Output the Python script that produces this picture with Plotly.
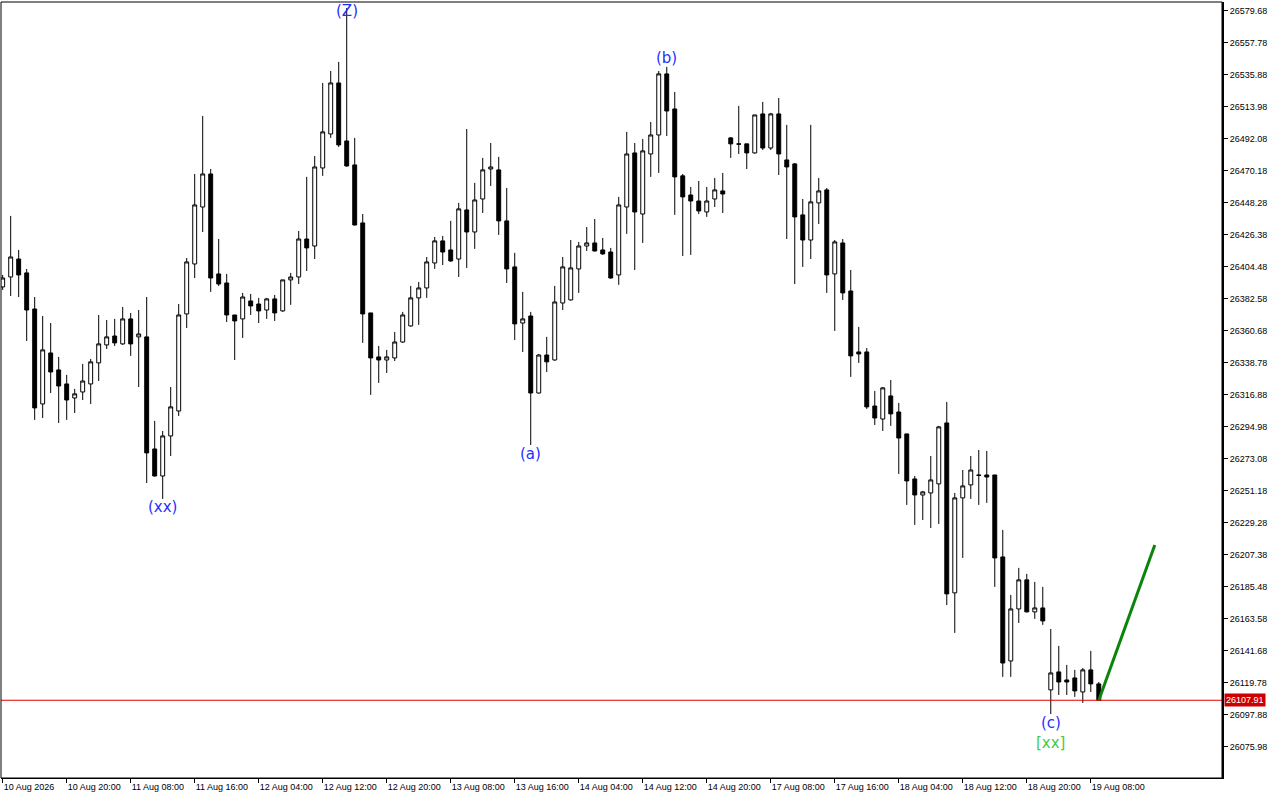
import plotly.graph_objects as go

# ---- data (prices) ----
opens = [26390.8, 26397.6, 26409.9, 26400.4, 26375.7, 26310.7, 26345.6, 26334.0, 26324.4, 26314.8,
         26318.9, 26324.4, 26338.8, 26351.1, 26357.2, 26351.8, 26368.9, 26356.6, 26356.6, 26279.9,
         26261.4, 26288.8, 26305.9, 26372.3, 26406.5, 26445.5, 26468.1, 26399.7, 26393.5, 26371.6,
         26368.9, 26381.2, 26379.1, 26375.0, 26382.6, 26374.4, 26395.6, 26397.6, 26423.6, 26418.8,
         26472.2, 26495.5, 26530.4, 26490.7, 26474.3, 26434.6, 26373.0, 26342.9, 26340.8, 26342.2,
         26353.1, 26364.1, 26383.3, 26390.1, 26407.2, 26422.3, 26416.1, 26409.9, 26443.5, 26428.4,
         26451.0, 26471.5, 26470.9, 26436.0, 26404.5, 26366.1, 26370.9, 26318.2, 26344.2, 26340.8,
         26379.8, 26381.9, 26403.1, 26418.8, 26420.9, 26416.1, 26414.7, 26399.0, 26445.5, 26482.5,
         26440.7, 26481.8, 26494.8, 26536.6, 26512.6, 26466.8, 26453.7, 26449.6, 26442.1, 26451.0,
         26456.5, 26492.8, 26488.7, 26488.7, 26482.5, 26509.2, 26485.9, 26509.2, 26477.7, 26475.0,
         26440.1, 26422.9, 26448.3, 26457.2, 26399.7, 26420.9, 26388.0, 26346.3, 26346.3, 26309.3,
         26300.4, 26316.2, 26305.2, 26290.2, 26259.4, 26248.4, 26249.8, 26256.0, 26297.7, 26181.4,
         26246.4, 26255.3, 26262.1, 26262.1, 26262.1, 26206.0, 26134.8, 26170.4, 26190.3, 26168.4,
         26171.1, 26115.0, 26127.3, 26121.8, 26123.2, 26113.6, 26128.7, 26119.1]
highs = [26399.0, 26439.4, 26416.1, 26403.1, 26383.9, 26370.9, 26366.1, 26342.9, 26330.6, 26321.0,
         26338.1, 26341.5, 26371.6, 26368.2, 26368.9, 26377.1, 26373.0, 26375.0, 26383.9, 26299.1,
         26292.2, 26322.3, 26379.1, 26410.6, 26468.1, 26507.8, 26471.5, 26423.6, 26399.7, 26371.6,
         26386.7, 26386.0, 26383.3, 26383.3, 26385.3, 26395.6, 26400.4, 26429.1, 26466.1, 26480.4,
         26530.4, 26538.6, 26544.8, 26581.7, 26492.8, 26440.7, 26373.0, 26350.4, 26347.7, 26360.0,
         26373.7, 26391.5, 26394.2, 26411.3, 26425.0, 26425.7, 26436.0, 26448.3, 26498.9, 26462.0,
         26479.1, 26489.3, 26479.8, 26458.5, 26414.1, 26387.4, 26373.7, 26344.9, 26356.6, 26391.5,
         26411.3, 26422.9, 26421.6, 26431.8, 26437.3, 26424.3, 26417.5, 26452.4, 26496.9, 26489.3,
         26492.1, 26503.7, 26538.6, 26541.4, 26524.2, 26468.1, 26459.2, 26463.3, 26459.2, 26465.4,
         26468.8, 26493.4, 26514.7, 26488.7, 26508.5, 26517.4, 26509.9, 26520.1, 26501.7, 26475.6,
         26451.0, 26501.7, 26465.4, 26458.5, 26422.9, 26423.6, 26402.4, 26363.4, 26349.0, 26319.6,
         26322.3, 26327.1, 26311.4, 26290.2, 26261.4, 26251.2, 26275.1, 26295.7, 26312.1, 26249.8,
         26265.5, 26275.1, 26279.2, 26278.5, 26262.1, 26224.5, 26180.0, 26198.5, 26194.4, 26188.9,
         26185.5, 26156.7, 26145.1, 26132.1, 26128.7, 26130.0, 26141.7, 26120.4]
lows = [26388.7, 26384.6, 26383.9, 26353.8, 26299.8, 26301.1, 26318.2, 26297.7, 26299.8, 26304.5,
        26313.4, 26310.7, 26326.4, 26348.3, 26350.4, 26351.1, 26343.6, 26322.3, 26256.6, 26261.0,
        26245.7, 26275.1, 26302.5, 26362.7, 26396.9, 26428.4, 26387.4, 26391.5, 26366.8, 26340.8,
        26355.9, 26371.6, 26366.1, 26368.9, 26367.5, 26373.7, 26378.5, 26392.8, 26401.7, 26409.9,
        26466.8, 26492.8, 26486.6, 26473.0, 26432.8, 26352.5, 26316.9, 26325.1, 26331.9, 26340.1,
        26352.5, 26363.6, 26364.8, 26383.3, 26403.1, 26405.8, 26407.9, 26397.6, 26403.8, 26416.8,
        26441.4, 26459.9, 26426.4, 26393.5, 26354.5, 26346.3, 26282.6, 26317.8, 26332.6, 26340.3,
        26375.0, 26381.4, 26386.7, 26415.4, 26415.0, 26412.7, 26396.5, 26392.2, 26427.1, 26402.4,
        26420.9, 26466.1, 26468.8, 26494.1, 26440.1, 26412.0, 26412.7, 26440.7, 26438.7, 26445.5,
        26441.4, 26479.1, 26481.8, 26471.5, 26482.0, 26484.5, 26484.5, 26467.4, 26423.6, 26392.8,
        26404.5, 26409.9, 26433.9, 26386.7, 26360.7, 26381.9, 26329.2, 26338.8, 26307.3, 26296.3,
        26292.2, 26295.7, 26262.8, 26241.6, 26227.9, 26231.3, 26225.8, 26228.6, 26173.1, 26154.0,
        26205.3, 26245.7, 26241.6, 26243.0, 26185.5, 26123.9, 26123.9, 26160.8, 26168.0, 26163.6,
        26159.5, 26098.5, 26111.5, 26111.5, 26110.2, 26106.1, 26113.6, 26107.9]
closes = [26396.9, 26411.3, 26399.0, 26375.0, 26308.0, 26347.7, 26332.6, 26323.0, 26313.4, 26317.6,
          26326.4, 26339.5, 26351.8, 26356.6, 26352.5, 26368.9, 26351.8, 26358.6, 26277.2, 26261.4,
          26288.8, 26308.7, 26371.6, 26407.9, 26446.9, 26468.1, 26396.9, 26392.8, 26371.6, 26367.5,
          26383.9, 26377.8, 26374.4, 26382.6, 26373.0, 26395.6, 26397.6, 26423.6, 26417.5, 26472.9,
          26496.9, 26530.4, 26488.0, 26473.6, 26433.2, 26372.3, 26342.2, 26340.8, 26342.9, 26353.1,
          26371.6, 26383.3, 26390.1, 26407.9, 26422.3, 26414.7, 26408.6, 26444.2, 26428.4, 26450.3,
          26470.9, 26472.9, 26436.0, 26403.1, 26365.5, 26368.9, 26318.2, 26344.2, 26339.5, 26380.5,
          26404.5, 26403.8, 26418.8, 26420.9, 26415.4, 26413.4, 26396.9, 26446.9, 26481.8, 26442.1,
          26483.9, 26494.8, 26536.6, 26511.2, 26466.1, 26452.4, 26449.6, 26442.8, 26449.6, 26457.2,
          26454.4, 26488.7, 26488.5, 26482.5, 26508.5, 26485.9, 26509.2, 26481.8, 26472.9, 26438.7,
          26422.9, 26449.0, 26456.5, 26399.0, 26421.6, 26386.7, 26343.6, 26344.9, 26308.7, 26301.1,
          26321.7, 26303.9, 26287.4, 26258.0, 26248.4, 26250.5, 26258.7, 26295.0, 26180.7, 26246.4,
          26254.6, 26265.5, 26261.8, 26260.7, 26205.3, 26133.4, 26170.4, 26190.3, 26168.4, 26171.1,
          26162.2, 26126.6, 26120.4, 26120.4, 26114.3, 26128.7, 26119.1, 26107.91]

# time axis labels (one every 8 bars)
tick_bars = [0, 8, 16, 24, 32, 40, 48, 56, 64, 72, 80, 88, 96, 104, 112, 120, 128, 136]
tick_labels = ["10 Aug 2026", "10 Aug 20:00", "11 Aug 08:00", "11 Aug 16:00", "12 Aug 04:00",
               "12 Aug 12:00", "12 Aug 20:00", "13 Aug 08:00", "13 Aug 16:00", "14 Aug 04:00",
               "14 Aug 12:00", "14 Aug 20:00", "17 Aug 08:00", "17 Aug 16:00", "18 Aug 04:00",
               "18 Aug 12:00", "18 Aug 20:00", "19 Aug 08:00"]

price_ticks = [26579.68, 26557.78, 26535.88, 26513.98, 26492.08, 26470.18, 26448.28, 26426.38,
               26404.48, 26382.58, 26360.68, 26338.78, 26316.88, 26294.98, 26273.08, 26251.18,
               26229.28, 26207.38, 26185.48, 26163.58, 26141.68, 26119.78, 26097.88, 26075.98]

current_price = 26107.91

# wave labels: (text, bar, price, colour)
wave_labels = [("(xx)", 20, 26240.2, "#1f2fff"),
               ("(a)", 66, 26276.5, "#1f2fff"),
               ("(b)", 83, 26547.5, "#1f2fff"),
               ("(c)", 131, 26092.4, "#1f2fff"),
               ("[xx]", 131, 26078.7, "#44cc44")]
top_label = ("(Z)", 43)

# projection line
proj_bars = [137, 144]
proj_prices = [26107.91, 26214.2]

bars = list(range(len(opens)))

fig = go.Figure()
fig.add_trace(go.Candlestick(
    x=bars, open=opens, high=highs, low=lows, close=closes,
    increasing=dict(line=dict(color="black", width=1), fillcolor="white"),
    decreasing=dict(line=dict(color="black", width=1), fillcolor="black"),
    whiskerwidth=0, showlegend=False, hoverinfo="skip"))

fig.add_trace(go.Scatter(x=proj_bars, y=proj_prices, mode="lines",
                         line=dict(color="#0a850a", width=3), showlegend=False,
                         hoverinfo="skip"))

fig.add_shape(type="line", xref="paper", x0=0, x1=1, yref="y",
              y0=current_price, y1=current_price, line=dict(color="#e00000", width=1))
fig.add_shape(type="rect", xref="paper", yref="paper", x0=0, x1=1, y0=0, y1=1,
              line=dict(color="black", width=1))

for text, b, p, col in wave_labels:
    fig.add_annotation(x=b, y=p, text=text, showarrow=False, xanchor="center",
                       yanchor="middle", font=dict(family="DejaVu Sans", size=15, color=col))
fig.add_annotation(x=top_label[1], xref="x", y=1.0, yref="paper", text=top_label[0],
                   showarrow=False, xanchor="center", yanchor="top", yshift=2,
                   font=dict(family="DejaVu Sans", size=15, color="#1f2fff"))

fig.add_annotation(x=1, xref="paper", y=current_price, yref="y", xanchor="left",
                   xshift=2, text=f"{current_price:.2f}", showarrow=False,
                   bgcolor="#cc0000", font=dict(family="Liberation Sans", size=9, color="white"),
                   borderpad=1)

fig.update_layout(
    width=1280, height=800,
    margin=dict(l=1, r=58, t=2, b=22),
    paper_bgcolor="white", plot_bgcolor="white",
    font=dict(family="Liberation Sans", size=9, color="black"),
    xaxis=dict(range=[-0.21, 152.4], rangeslider=dict(visible=False), showgrid=False,
               zeroline=False, tickvals=tick_bars, ticktext=tick_labels, ticks="outside",
               ticklen=4, tickcolor="black", showline=True, linecolor="black", linewidth=1,
               ticklabelposition="outside right", tickfont=dict(size=9)),
    yaxis=dict(range=[26054.7, 26585.8], side="right", showgrid=False, zeroline=False,
               tickvals=price_ticks, ticktext=[f"{v:.2f}" for v in price_ticks],
               ticks="outside", ticklen=4, tickcolor="black", showline=True,
               linecolor="black", linewidth=2, tickfont=dict(size=9)),
)

fig.write_html("out.html", config={"displayModeBar": False},
               post_script="document.body.style.margin='0';document.body.style.padding='0';")
